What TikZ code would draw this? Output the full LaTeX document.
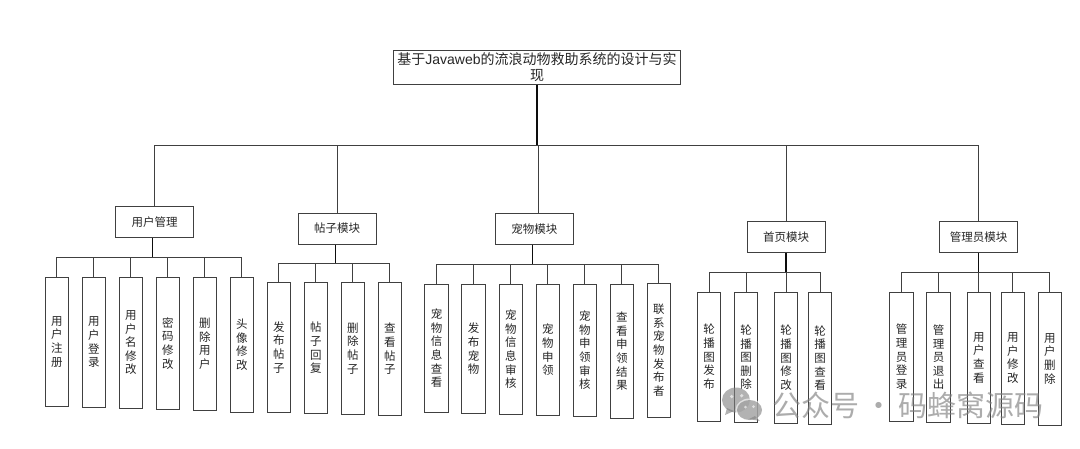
\documentclass[tikz,border=0pt]{standalone}
\usepackage{fontspec}
\setmainfont{Liberation Sans}
\newfontfamily\cjk{Noto Sans CJK SC}
\tikzset{
  x=1pt,y=-1pt,
  box/.style={draw=black!75,line width=1pt,fill=white,inner sep=0pt,align=center,text=black!85,font=\cjk\fontsize{11.5}{13.6}\selectfont},
  mod/.style={box,minimum width=78pt,minimum height=31pt},
  leaf/.style={box,minimum width=23.6pt},
  link/.style={draw=black!75,line width=1pt,line cap=rect},
  trunk/.style={draw=black!95,line width=1.2pt},
}
% \leafnode{name}{cx}{top}{bottom}{text}
\newcommand{\leafnode}[5]{%
  \pgfmathsetmacro{\lh}{#4-#3}\pgfmathsetmacro{\lc}{(#4+#3)/2}%
  \node[leaf,minimum height=\lh pt] (#1) at (#2,\lc) {#5};%
}
\begin{document}
\begin{tikzpicture}
\path[use as bounding box,fill=white] (0,0) rectangle (1080,448);
% root
\node[box,minimum width=287.4pt,minimum height=34.3pt,font=\cjk\fontsize{14}{15.5}\selectfont] (root) at (537,67.2)
  {基于{\fontspec{Liberation Sans}Javaweb}的流浪动物救助系统的设计与实\\现};
% modules
\node[mod] (m1) at (154.5,222.2) {用户管理};
\node[mod] (m2) at (337,228.5) {帖子模块};
\node[mod] (m3) at (534.3,228.7) {宠物模块};
\node[mod] (m4) at (786.2,237) {首页模块};
\node[mod] (m5) at (978.7,237) {管理员模块};
% top bus
\coordinate (busT) at (537,145);
\coordinate (busL) at (154.5,145);
\coordinate (busR) at (978.7,145);
\coordinate (drop3) at (538.5,145);
\coordinate (drop3b) at (538.5,212.8);
\draw[trunk] (root.south) -- (busT);
\draw[link] (busL) -- (busR);
\draw[link] (busL) -- (m1.north);
\draw[link] (m2.north |- busT) -- (m2.north);
\draw[link] (drop3) -- (drop3b);
\draw[link] (m4.north |- busT) -- (m4.north);
\draw[link] (busR) -- (m5.north);
% leaves: user
\leafnode{a1}{56.8}{277.3}{406.3}{用\\户\\注\\册}
\leafnode{a2}{93.8}{277.3}{407.3}{用\\户\\登\\录}
\leafnode{a3}{130.8}{277.3}{408.3}{用\\户\\名\\修\\改}
\leafnode{a4}{167.8}{277.3}{409.3}{密\\码\\修\\改}
\leafnode{a5}{204.8}{277.3}{410.3}{删\\除\\用\\户}
\leafnode{a6}{241.8}{277.3}{412}{头\\像\\修\\改}
% leaves: post
\leafnode{b1}{278.8}{282.7}{412}{发\\布\\帖\\子}
\leafnode{b2}{315.8}{282.7}{413}{帖\\子\\回\\复}
\leafnode{b3}{352.8}{282.7}{414}{删\\除\\帖\\子}
\leafnode{b4}{389.8}{282.7}{415}{查\\看\\帖\\子}
% leaves: pet
\leafnode{c1}{436.5}{284}{412.7}{宠\\物\\信\\息\\查\\看}
\leafnode{c2}{473.5}{284}{413.7}{发\\布\\宠\\物}
\leafnode{c3}{510.8}{284}{414.7}{宠\\物\\信\\息\\审\\核}
\leafnode{c4}{547.8}{284}{415.7}{宠\\物\\申\\领}
\leafnode{c5}{584.8}{284}{416.7}{宠\\物\\申\\领\\审\\核}
\leafnode{c6}{621.8}{284}{418.7}{查\\看\\申\\领\\结\\果}
\leafnode{c7}{658.8}{283}{417.3}{联\\系\\宠\\物\\发\\布\\者}
% leaves: home
\leafnode{d1}{709}{292.3}{421.3}{轮\\播\\图\\发\\布}
\leafnode{d2}{746}{292.3}{422.3}{轮\\播\\图\\删\\除}
\leafnode{d3}{786}{292.3}{423.3}{轮\\播\\图\\修\\改}
\leafnode{d4}{820}{292.3}{424}{轮\\播\\图\\查\\看}
% leaves: admin
\leafnode{e1}{901.5}{292.3}{421.3}{管\\理\\员\\登\\录}
\leafnode{e2}{938.5}{292.3}{422.3}{管\\理\\员\\退\\出}
\leafnode{e3}{978.8}{292.3}{423.3}{用\\户\\查\\看}
\leafnode{e4}{1012.8}{292.3}{424}{用\\户\\修\\改}
\leafnode{e5}{1049.8}{292.3}{425}{用\\户\\删\\除}
% buses
\coordinate (t1) at (152.7,257.7);
\coordinate (t2) at (335.3,263.7);
\coordinate (t3) at (532.3,264);
\coordinate (t4) at (786,272.3);
\coordinate (t5) at (978.7,272.3);
\draw[trunk] (m1.south -| t1) -- (t1);
\draw[trunk] (m2.south -| t2) -- (t2);
\draw[trunk] (m3.south -| t3) -- (t3);
\draw[trunk] (m4.south -| t4) -- (t4);
\draw[trunk] (m5.south -| t5) -- (t5);
\foreach \f/\l/\t/\lst in {a1/a6/t1/{a1,a2,a3,a4,a5,a6},b1/b4/t2/{b1,b2,b3,b4},c1/c7/t3/{c1,c2,c3,c4,c5,c6,c7},d1/d4/t4/{d1,d2,d3,d4},e1/e5/t5/{e1,e2,e3,e4,e5}}{
  \draw[link] (\f.north |- \t) -- (\l.north |- \t);
  \foreach \n in \lst { \draw[link] (\n.north |- \t) -- (\n.north); }
}
% watermark
\begin{scope}[opacity=0.6]
\fill[black!50] (736,400) ellipse [x radius=14pt,y radius=12.5pt];
\fill[black!50] (727,408) -- (725,415) -- (734,411) -- cycle;
\fill[white] (731.7,396.5) circle (1.8pt) (741.7,395.7) circle (1.8pt);
\fill[white] (749.5,410) ellipse [x radius=14pt,y radius=11.5pt];
\fill[black!50] (749.5,410) ellipse [x radius=12.5pt,y radius=10pt];
\fill[black!50] (755,416) -- (760,421) -- (749,419) -- cycle;
\fill[white] (745.5,407) circle (1.5pt) (753.5,406.7) circle (1.5pt);
\end{scope}
\node[anchor=center,inner sep=0pt,text=black!50,text opacity=0.65,font=\cjk\fontsize{29}{30}\selectfont] (wm) at (908,405) {公众号\,·\,码蜂窝源码};
\end{tikzpicture}
\end{document}
